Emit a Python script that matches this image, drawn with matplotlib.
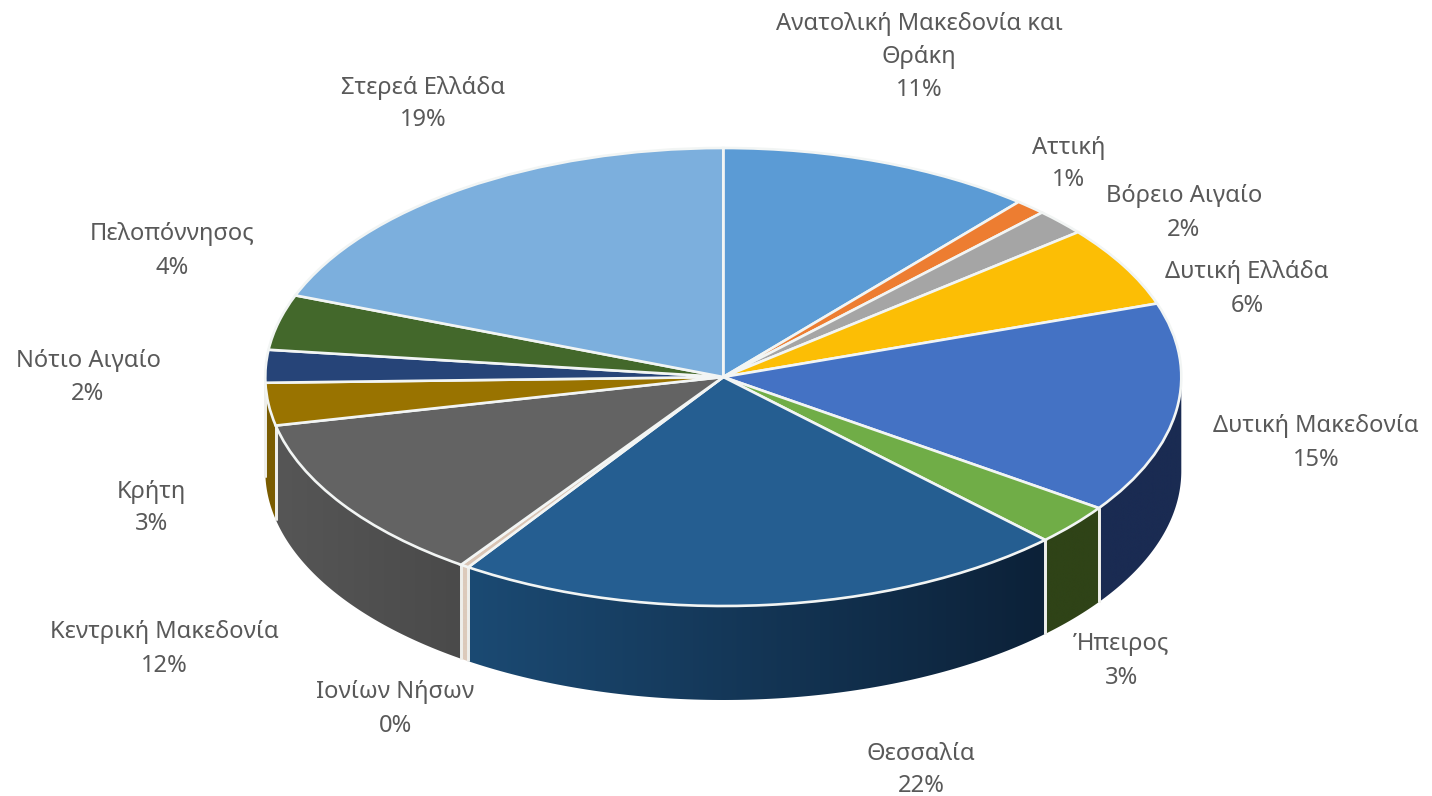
import numpy as np
import matplotlib
matplotlib.use("Agg")
import matplotlib.pyplot as plt
from matplotlib.colors import LinearSegmentedColormap
from matplotlib.patches import Polygon

W, H = 1432, 796
CX, CY, RX, RY, DEPTH = 723.3, 377, 458, 229, 94

regions = ["Ανατολική Μακεδονία και\nΘράκη", "Αττική", "Βόρειο Αιγαίο", "Δυτική Ελλάδα",
           "Δυτική Μακεδονία", "Ήπειρος", "Θεσσαλία", "Ιονίων Νήσων",
           "Κεντρική Μακεδονία", "Κρήτη", "Νότιο Αιγαίο", "Πελοπόννησος", "Στερεά Ελλάδα"]
values = [11.15, 1.1, 1.85, 5.7, 14.9, 2.9, 21.8, 0.3, 11.9, 3.0, 2.3, 3.9, 19.2]
percent_labels = ["11%", "1%", "2%", "6%", "15%", "3%", "22%", "0%", "12%", "3%", "2%", "4%", "19%"]
top_colors = ["#5B9BD5", "#ED7D31", "#A5A5A5", "#FCBE05", "#4472C4", "#70AD47", "#255E91",
              "#d9c4b4", "#636363", "#997300", "#264478", "#43682B", "#7CAFDD"]
wall_left = ["#3a6a9a", "#a0541f", "#707070", "#b08400", "#1a2b52", "#2f4317", "#1b4a73",
             "#dccabb", "#565656", "#7a5c00", "#1a2f55", "#2d471d", "#547a9a"]
wall_right = ["#3a6a9a", "#a0541f", "#707070", "#b08400", "#1a2b52", "#2f4317", "#0c2138",
              "#dccabb", "#4a4a4a", "#7a5c00", "#1a2f55", "#2d471d", "#547a9a"]
label_px = [(919, 57), (1069, 164), (1184, 213), (1247, 289), (1316, 443), (1121, 661),
            (921, 770), (395, 709), (164, 649), (151, 508), (88, 377), (172, 251), (423, 104)]

fig = plt.figure(figsize=(W / 100, H / 100), dpi=100, facecolor="white")
ax = fig.add_axes([0, 0, 1, 1])

fracs = np.cumsum([0] + values) / sum(values) * 2 * np.pi
xlim = (-CX / RX, (W - CX) / RX)
ylim = ((CY - H) / RY, CY / RY)
d = DEPTH / RY
for i in range(len(values)):
    t0, t1 = max(fracs[i], np.pi / 2), min(fracs[i + 1], 3 * np.pi / 2)
    if t1 <= t0:
        continue
    t = np.linspace(t0, t1, 100)
    x, y = np.sin(t), np.cos(t)
    pts = np.r_[np.c_[x, y], np.c_[x[::-1], y[::-1] - d]]
    patch = Polygon(pts, closed=True, facecolor="none", edgecolor="none", transform=ax.transData)
    ax.add_patch(patch)
    cmap = LinearSegmentedColormap.from_list("w", [wall_left[i], wall_right[i]])
    im = ax.imshow(np.linspace(0, 1, 256)[None, :], cmap=cmap, aspect="auto", zorder=1,
                   extent=(x.min(), x.max(), (y - d).min(), y.max()))
    im.set_clip_path(patch)
    for tt in (t0, t1):
        if np.pi / 2 + 1e-6 < tt < 3 * np.pi / 2 - 1e-6:
            ax.plot([np.sin(tt)] * 2, [np.cos(tt), np.cos(tt) - d], color="#eeeeea", lw=2.0,
                    zorder=2, solid_capstyle="butt")

ax.pie(values, colors=top_colors, startangle=90, counterclock=False, radius=1, center=(0, 0),
       wedgeprops=dict(edgecolor="#f2f5f4", linewidth=1.9, zorder=3), frame=False)
ax.set_aspect("auto")
ax.set_xlim(*xlim)
ax.set_ylim(*ylim)
ax.axis("off")

for name, pct, (px, py) in zip(regions, percent_labels, label_px):
    fig.text(px / W, 1 - py / H, f"{name}\n{pct}", ha="center", va="center", color="#595959",
             fontsize=17.1, family="Noto Sans", linespacing=1.5, multialignment="center")

fig.savefig("out.png", dpi=100)
